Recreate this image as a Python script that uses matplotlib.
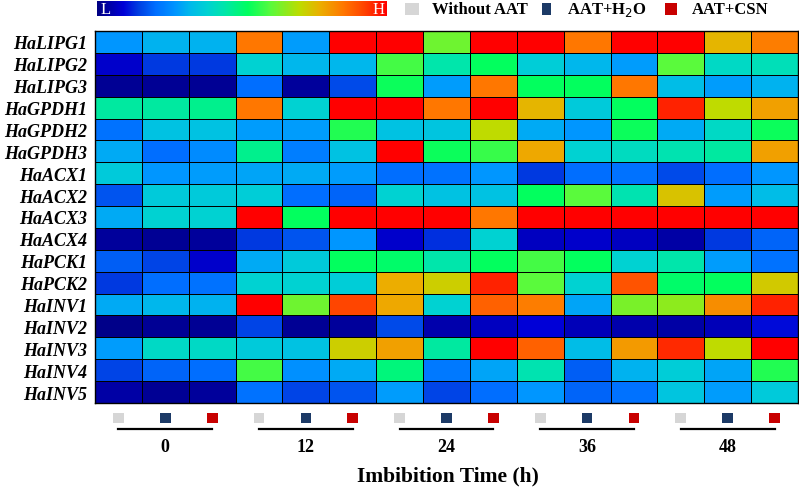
import numpy as np
import matplotlib
matplotlib.use('Agg')
import matplotlib.pyplot as plt
from matplotlib.colors import LinearSegmentedColormap
from matplotlib.transforms import blended_transform_factory
from matplotlib.patches import Rectangle
from matplotlib.lines import Line2D

plt.rcParams['font.family'] = ['Liberation Serif', 'DejaVu Serif']

genes = ['HaLIPG1', 'HaLIPG2', 'HaLIPG3', 'HaGPDH1', 'HaGPDH2', 'HaGPDH3',
         'HaACX1', 'HaACX2', 'HaACX3', 'HaACX4', 'HaPCK1', 'HaPCK2',
         'HaINV1', 'HaINV2', 'HaINV3', 'HaINV4', 'HaINV5']
times = ['0', '12', '24', '36', '48']
treat_names = ['Without AAT', 'AAT+H$_2$O', 'AAT+CSN']
treat_colors = ['#d6d6d6', '#1c3a66', '#c80000']

# relative expression (0 = low, 1 = high), columns: 0h x3, 12h x3, ... 48h x3
expr = np.array([
    [0.27, 0.31, 0.31, 0.85, 0.28, 1.00, 1.00, 0.62, 1.00, 1.00, 0.85, 1.00, 1.00, 0.76, 0.84],
    [0.08, 0.14, 0.14, 0.38, 0.32, 0.32, 0.58, 0.44, 0.52, 0.37, 0.32, 0.28, 0.60, 0.40, 0.42],
    [0.02, 0.02, 0.02, 0.20, 0.03, 0.16, 0.53, 0.28, 0.85, 0.52, 0.52, 0.85, 0.33, 0.28, 0.31],
    [0.45, 0.45, 0.47, 0.85, 0.38, 1.00, 1.00, 0.85, 1.00, 0.76, 0.36, 0.52, 0.96, 0.70, 0.79],
    [0.21, 0.34, 0.34, 0.28, 0.28, 0.55, 0.34, 0.35, 0.70, 0.30, 0.27, 0.53, 0.30, 0.40, 0.53],
    [0.30, 0.20, 0.25, 0.47, 0.23, 0.34, 1.00, 0.53, 0.57, 0.78, 0.38, 0.41, 0.43, 0.45, 0.79],
    [0.36, 0.27, 0.28, 0.29, 0.30, 0.28, 0.20, 0.21, 0.27, 0.14, 0.20, 0.21, 0.16, 0.20, 0.27],
    [0.17, 0.36, 0.36, 0.37, 0.20, 0.19, 0.38, 0.34, 0.34, 0.52, 0.60, 0.43, 0.74, 0.28, 0.33],
    [0.30, 0.38, 0.38, 1.00, 0.52, 1.00, 1.00, 1.00, 0.85, 1.00, 1.00, 1.00, 1.00, 1.00, 1.00],
    [0.03, 0.02, 0.03, 0.14, 0.17, 0.27, 0.08, 0.13, 0.38, 0.07, 0.08, 0.07, 0.04, 0.14, 0.19],
    [0.18, 0.15, 0.08, 0.30, 0.36, 0.52, 0.51, 0.44, 0.52, 0.58, 0.52, 0.38, 0.44, 0.28, 0.21],
    [0.14, 0.20, 0.21, 0.38, 0.38, 0.37, 0.77, 0.72, 0.96, 0.60, 0.38, 0.90, 0.51, 0.52, 0.73],
    [0.30, 0.32, 0.31, 1.00, 0.62, 0.92, 0.78, 0.38, 0.88, 0.84, 0.29, 0.63, 0.65, 0.82, 0.96],
    [0.01, 0.02, 0.02, 0.15, 0.02, 0.03, 0.16, 0.05, 0.07, 0.09, 0.06, 0.05, 0.04, 0.06, 0.10],
    [0.28, 0.40, 0.40, 0.36, 0.34, 0.72, 0.79, 0.45, 1.00, 0.88, 0.33, 0.80, 0.95, 0.70, 1.00],
    [0.15, 0.19, 0.20, 0.58, 0.26, 0.30, 0.49, 0.22, 0.29, 0.43, 0.18, 0.31, 0.37, 0.29, 0.55],
    [0.04, 0.02, 0.03, 0.21, 0.15, 0.17, 0.28, 0.15, 0.20, 0.27, 0.19, 0.21, 0.35, 0.28, 0.36],
])

stops = [(0.00, (0, 0, 130)), (0.05, (0, 0, 175)), (0.09, (0, 0, 215)),
         (0.14, (0, 60, 225)), (0.20, (0, 110, 255)), (0.27, (0, 150, 255)),
         (0.32, (0, 185, 235)), (0.38, (0, 210, 210)), (0.44, (0, 230, 170)),
         (0.52, (0, 255, 95)), (0.60, (90, 250, 60)), (0.70, (190, 220, 0)),
         (0.77, (235, 175, 0)), (0.85, (255, 120, 0)), (0.92, (255, 70, 0)),
         (1.00, (255, 0, 0))]
cmap = LinearSegmentedColormap.from_list(
    'lh', [(p, tuple(c / 255 for c in rgb)) for p, rgb in stops])

W, H = 799, 489
fig = plt.figure(figsize=(W / 100, H / 100), dpi=100)

# main heatmap
ax = fig.add_axes([95 / W, 1 - 404 / H, 703 / W, 372 / H])
nr, nc = expr.shape
ax.pcolormesh(np.arange(nc + 1), np.arange(nr + 1), expr, cmap=cmap,
              vmin=0, vmax=1, edgecolors='black', linewidth=0.7)
ax.set_xlim(0, nc)
ax.set_ylim(nr, 0)
ax.set_xticks([])
ax.set_yticks(np.arange(nr) + 0.5)
ax.set_yticklabels(genes, fontsize=13, fontweight='bold', fontstyle='italic')
ax.tick_params(axis='y', length=0, pad=6)
for s in ax.spines.values():
    s.set_linewidth(1.0)

# treatment markers, group lines and time labels under the heatmap
tr = blended_transform_factory(ax.transData, fig.transFigure)
for g, t in enumerate(times):
    for k in range(3):
        xc = g * 3 + k + 0.5
        ax.add_patch(Rectangle((xc - 0.115, 1 - 424 / H), 0.23, 10 / H,
                               transform=tr, facecolor=treat_colors[k],
                               edgecolor='none', clip_on=False))
    ax.add_line(Line2D([g * 3 + 0.5, g * 3 + 2.5], [1 - 430 / H] * 2,
                       transform=tr, color='black', lw=1.6, clip_on=False))
    ax.text(g * 3 + 1.5, 1 - 447 / H, t, transform=tr, ha='center',
            va='center', fontsize=13, fontweight='bold')
fig.text(448 / W, 1 - 476 / H, 'Imbibition Time (h)', ha='center',
         va='center', fontsize=15.5, fontweight='bold')

# colour scale bar
cax = fig.add_axes([97 / W, 1 - 17 / H, 290 / W, 15 / H])
cax.imshow(np.linspace(0, 1, 256)[None, :], aspect='auto', cmap=cmap,
           extent=[0, 1, 0, 1])
cax.set_axis_off()
cax.text(0.03, 0.45, 'L', color='white', ha='center', va='center',
         fontsize=12, transform=cax.transAxes)
cax.text(0.97, 0.45, 'H', color='white', ha='center', va='center',
         fontsize=12, transform=cax.transAxes)

# treatment legend
leg_sq = [(405, 14), (542, 9), (665, 12)]
leg_tx = [432, 567, 692]
for (x0, w), c, name, xt in zip(leg_sq, treat_colors, treat_names, leg_tx):
    fig.patches.append(Rectangle((x0 / W, 1 - 16 / H), w / W, 12 / H,
                                 transform=fig.transFigure, facecolor=c,
                                 edgecolor='none'))
    fig.text(xt / W, 1 - 10 / H, name, ha='left', va='center',
             fontsize=12, fontweight='bold')

fig.savefig('out.png', dpi=100)
